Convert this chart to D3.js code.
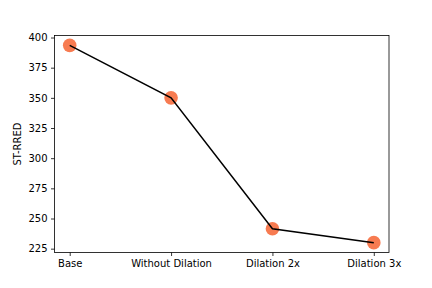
<!DOCTYPE html>
<html>
<head>
<meta charset="utf-8">
<script src="https://cdn.jsdelivr.net/npm/d3@7"></script>
<style>
  body { margin: 0; background: #fff; }
  text { font-family: "DejaVu Sans", sans-serif; }
</style>
</head>
<body>
<div id="chart"></div>
<script>
// data
var categories = ["Base", "Without Dilation", "Dilation 2x", "Dilation 3x"];
var stRred = [393.5, 350, 241.5, 230];
var yTicks = [225, 250, 275, 300, 325, 350, 375, 400];

var width = 432, height = 288;
var margin = {top: 35.5, right: 43, bottom: 35.5, left: 54.5};
var innerW = width - margin.left - margin.right,
    innerH = height - margin.top - margin.bottom;

var svg = d3.select("#chart")
  .append("svg")
    .attr("width", width)
    .attr("height", height)
  .append("g")
    .attr("transform", "translate(" + margin.left + "," + margin.top + ")");

// matplotlib style 5% margins
var pad = 0.05 * (categories.length - 1);
var x = d3.scaleLinear()
  .domain([-pad, categories.length - 1 + pad])
  .range([0, innerW]);

var ymin = d3.min(stRred), ymax = d3.max(stRred), span = ymax - ymin;
var y = d3.scaleLinear()
  .domain([ymin - 0.05 * span, ymax + 0.05 * span])
  .range([innerH, 0]);

// X axis
var xAxis = svg.append("g")
  .attr("transform", "translate(0," + innerH + ")")
  .call(d3.axisBottom(x)
    .tickValues(d3.range(categories.length))
    .tickFormat(function(d) { return categories[d]; })
    .tickSizeOuter(0)
    .tickSize(3.5)
    .tickPadding(3.5));

// Y axis
var yAxis = svg.append("g")
  .call(d3.axisLeft(y)
    .tickValues(yTicks)
    .tickSizeOuter(0)
    .tickSize(3.5)
    .tickPadding(3.5));

[xAxis, yAxis].forEach(function(a) {
  a.select(".domain").remove();
  a.selectAll(".tick line").attr("stroke", "#000").attr("stroke-width", 0.8);
  a.selectAll(".tick text").attr("fill", "#000").style("font-size", "10px");
});

// frame
svg.append("rect")
  .attr("width", innerW)
  .attr("height", innerH)
  .attr("fill", "none")
  .attr("stroke", "#000")
  .attr("stroke-width", 0.8);

// markers
svg.selectAll("dot")
  .data(stRred)
  .enter()
  .append("circle")
  .attr("cx", function(d, i) { return x(i); })
  .attr("cy", function(d) { return y(d); })
  .attr("r", 6.8)
  .style("fill", "#f77b51");

// line drawn over the markers
var line = d3.line()
  .x(function(d, i) { return x(i); })
  .y(function(d) { return y(d); });

svg.append("path")
  .datum(stRred)
  .attr("d", line)
  .attr("fill", "none")
  .attr("stroke", "#000")
  .attr("stroke-width", 1.5);

// y label
svg.append("text")
  .attr("transform", "translate(" + (-33.5) + "," + (innerH / 2) + ") rotate(-90)")
  .attr("text-anchor", "middle")
  .style("font-size", "10px")
  .text("ST-RRED");
</script>
</body>
</html>
